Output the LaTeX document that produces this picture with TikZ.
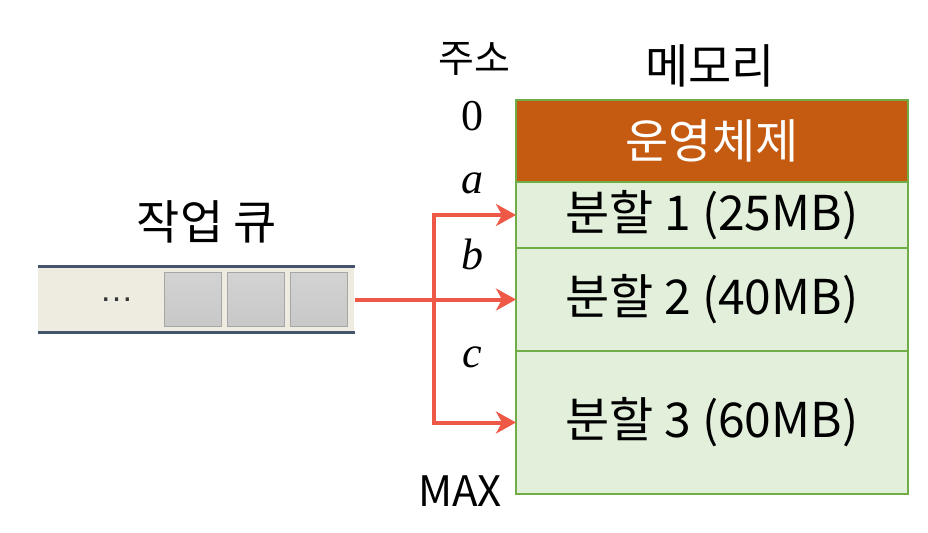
\documentclass[tikz,border=0pt]{standalone}
\usepackage{fontspec}
\setmainfont{Noto Sans CJK KR}
\newfontfamily\addrfont{Liberation Serif}
\newfontfamily\dotfont{Liberation Sans}
\usetikzlibrary{arrows.meta,positioning,calc}
\definecolor{osorange}{HTML}{C55A11}
\definecolor{partgreen}{HTML}{E2EFDA}
\definecolor{partline}{HTML}{70AD47}
\definecolor{qline}{HTML}{44546A}
\definecolor{qfill}{HTML}{EEECE1}
\definecolor{jobgray}{HTML}{C8C8C8}
\definecolor{jobline}{HTML}{A6A6A6}
\definecolor{arrred}{HTML}{EE5846}
\tikzset{
  part/.style={draw=partline,line width=1pt,fill=partgreen,minimum width=196pt,
    outer sep=0pt,inner sep=0pt,font=\fontsize{24}{28}\selectfont},
  job/.style={draw=jobline,line width=0.6pt,top color=jobgray!80!white,bottom color=jobgray,
    minimum width=28.5pt,minimum height=27pt,inner sep=0pt},
  addr/.style={font=\fontsize{22}{26}\selectfont\addrfont},
  title/.style={font=\fontsize{23.5}{28}\selectfont},
  link/.style={arrred,line width=2pt,->}
}
\begin{document}
\begin{tikzpicture}[x=0.5pt,y=-0.5pt,>={Stealth[length=10pt,width=11pt,inset=3pt]}]
\useasboundingbox (0,0) rectangle (928,532);
% memory
\node[part,fill=osorange,text=white,minimum height=41pt,anchor=north west,
  font=\fontsize{23.5}{28}\selectfont] (os) at (516,100) {운영체제};
\node[part,minimum height=33pt,below=0pt of os] (p1) {분할 1 (25MB)};
\node[part,minimum height=51.5pt,below=0pt of p1] (p2) {분할 2 (40MB)};
\node[part,minimum height=71.5pt,below=0pt of p2] (p3) {분할 3 (60MB)};
\node[title] (memtitle) at (710,66) {메모리};
% addresses
\node[font=\fontsize{19.5}{23}\selectfont] (addrtitle) at (474,59) {주소};
\node[addr] (a0) at (472,116) {0};
\node[addr] (aa) at (472,183) {\itshape a};
\node[addr] (ab) at (472,254) {\itshape b};
\node[addr] (ac) at (472,357) {\itshape c};
\node[font=\fontsize{21}{25}\selectfont] (amax) at (460,491) {MAX};
% job queue
\node[fill=qfill,minimum width=158pt,minimum height=32.5pt,inner sep=0pt,anchor=west] (queue) at (38,299.5) {};
\draw[qline,line width=1.6pt] (queue.north west)--(queue.north east) (queue.south west)--(queue.south east);
\node[font=\fontsize{17}{20}\selectfont\dotfont,text=black!80,inner sep=0pt] (dots) at (116.5,300) {…};
\foreach \i/\x in {1/193,2/256,3/319}
  \node[job] (job\i) at (\x,299.5) {};
\node[title] (qtitle) at (207,222) {작업 큐};
% dispatch
\coordinate (split) at (434,299.5);
\draw[link] (queue.east) -- (p2.west);
\draw[link] (split) |- (p1.west);
\draw[link] (split) |- (p3.west);
\end{tikzpicture}
\end{document}
